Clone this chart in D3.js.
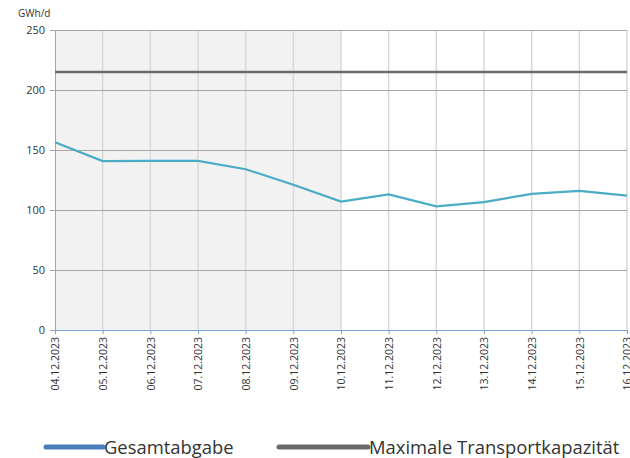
<!DOCTYPE html>
<html>
<head>
<meta charset="utf-8">
<script src="https://cdn.jsdelivr.net/npm/d3@7"></script>
<style>
  body { margin: 0; background: #fff; }
  text { font-family: "Open Sans", sans-serif; fill: #333; }
</style>
</head>
<body>
<script>
// data
const dates = ["04.12.2023","05.12.2023","06.12.2023","07.12.2023","08.12.2023","09.12.2023",
               "10.12.2023","11.12.2023","12.12.2023","13.12.2023","14.12.2023","15.12.2023","16.12.2023"];
const gesamtabgabe = [156.5, 140.8, 141, 141, 134, 121, 107, 113, 103, 106.5, 113.5, 116, 112];
const maxKapazitaet = 215;
const shadedUntil = "10.12.2023";
const yTicks = [0, 50, 100, 150, 200, 250];

const width = 630, height = 458;
const m = {left: 55, right: 3, top: 30, bottom: 128};

const svg = d3.select("body").append("svg")
    .attr("width", width)
    .attr("height", height);

const x = d3.scalePoint()
    .domain(dates)
    .range([m.left, width - m.right]);

const y = d3.scaleLinear()
    .domain([0, 250])
    .range([height - m.bottom, m.top]);

// shaded past days
svg.append("rect")
    .attr("x", x(dates[0]))
    .attr("y", y(250))
    .attr("width", x(shadedUntil) - x(dates[0]))
    .attr("height", y(0) - y(250))
    .attr("fill", "#f2f2f2");

// vertical grid
svg.append("g")
    .selectAll("line")
    .data(dates.slice(1))
    .enter().append("line")
    .attr("x1", d => x(d)).attr("x2", d => x(d))
    .attr("y1", y(250)).attr("y2", y(0))
    .attr("stroke", "#d9d9d9")
    .attr("stroke-width", 1.5);

// horizontal grid
svg.append("g")
    .selectAll("line")
    .data(yTicks.slice(1))
    .enter().append("line")
    .attr("x1", m.left).attr("x2", width - m.right)
    .attr("y1", d => y(d) + 0.5).attr("y2", d => y(d) + 0.5)
    .attr("stroke", "#a6a6a6")
    .attr("stroke-width", 1);

// y axis
const yAxis = svg.append("g")
    .attr("transform", `translate(${m.left},0)`)
    .call(d3.axisLeft(y).tickValues(yTicks).tickSize(5).tickPadding(5));
yAxis.select(".domain").attr("stroke", "#a6a6a6");
yAxis.selectAll(".tick line").attr("stroke", "#a6a6a6");
yAxis.selectAll("text")
    .style("font-size", "11px")
    .style("font-family", "'Open Sans', sans-serif")
    .attr("fill", "#333");

// x axis
const xAxis = svg.append("g")
    .attr("transform", `translate(0,${y(0)})`)
    .call(d3.axisBottom(x).tickSize(4).tickPadding(4));
xAxis.select(".domain").attr("stroke", "#7aa6d6").attr("stroke-width", 1.2);
xAxis.selectAll(".tick line").attr("stroke", "#7aa6d6");
xAxis.selectAll("text")
    .style("font-size", "10.5px")
    .style("font-family", "'Open Sans', sans-serif")
    .attr("fill", "#333")
    .attr("text-anchor", "end")
    .attr("transform", "rotate(-90)")
    .attr("x", -7)
    .attr("y", 0)
    .attr("dy", "0.35em");

// unit label
svg.append("text")
    .attr("x", 18).attr("y", 17)
    .style("font-size", "10px")
    .text("GWh/d");

// max capacity line
svg.append("line")
    .attr("x1", m.left).attr("x2", width - m.right)
    .attr("y1", y(maxKapazitaet)).attr("y2", y(maxKapazitaet))
    .attr("stroke", "#6b6b6b")
    .attr("stroke-width", 2.5);

// series line
const line = d3.line()
    .x((d, i) => x(dates[i]))
    .y(d => y(d));

svg.append("path")
    .datum(gesamtabgabe)
    .attr("d", line)
    .attr("fill", "none")
    .attr("stroke", "#4bacc6")
    .attr("stroke-width", 2.2);

// legend
const legend = [
  {label: "Gesamtabgabe", color: "#4a7ebb", x1: 46, x2: 103},
  {label: "Maximale Transportkapazität", color: "#6b6b6b", x1: 279, x2: 368}
];
const lg = svg.append("g").selectAll("g").data(legend).enter().append("g");
lg.append("line")
    .attr("x1", d => d.x1).attr("x2", d => d.x2)
    .attr("y1", 447).attr("y2", 447)
    .attr("stroke", d => d.color)
    .attr("stroke-width", 5)
    .attr("stroke-linecap", "round");
lg.append("text")
    .attr("x", d => d.x2 + 1)
    .attr("y", 453.5)
    .style("font-size", "18.4px")
    .attr("fill", "#333")
    .text(d => d.label);
</script>
</body>
</html>
